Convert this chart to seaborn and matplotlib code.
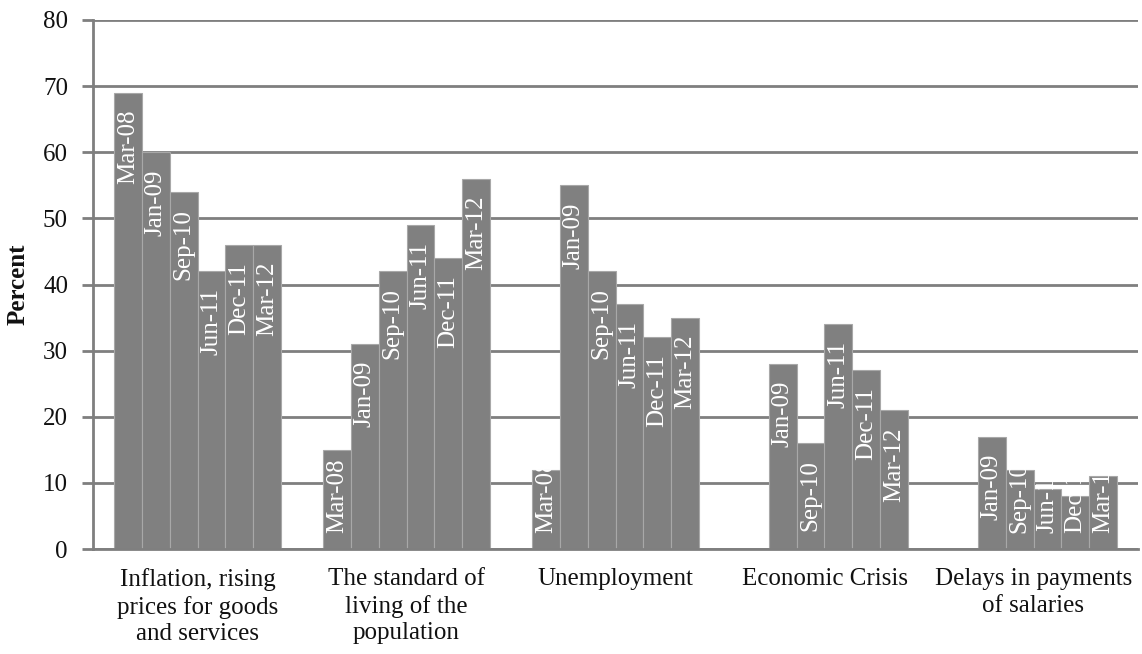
import numpy as np
import pandas as pd
import matplotlib
matplotlib.use("Agg")
import matplotlib.pyplot as plt
import seaborn as sns

categories = [
    "Inflation, rising\nprices for goods\nand services",
    "The standard of\nliving of the\npopulation",
    "Unemployment",
    "Economic Crisis",
    "Delays in payments\nof salaries",
]
periods = ["Mar-08", "Jan-09", "Sep-10", "Jun-11", "Dec-11", "Mar-12"]
inflation = [69, 60, 54, 42, 46, 46]
living_standard = [15, 31, 42, 49, 44, 56]
unemployment = [12, 55, 42, 37, 32, 35]
economic_crisis = [np.nan, 28, 16, 34, 27, 21]
salary_delays = [np.nan, 17, 12, 9, 8, 11]

series = [inflation, living_standard, unemployment, economic_crisis, salary_delays]
rows = []
for cat, vals in zip(categories, series):
    for p, v in zip(periods, vals):
        rows.append({"category": cat, "period": p, "value": v})
df = pd.DataFrame(rows).dropna()

sns.set_theme(style="white")
plt.rcParams["font.family"] = ["Liberation Serif", "DejaVu Serif"]
FS = 18
BAR = "#808080"
GRID = "#7f7f7f"

fig = plt.figure(figsize=(11.42, 6.54), dpi=100)
ax = fig.add_axes([93 / 1142, 1 - 549 / 654, (1138 - 93) / 1142, (549 - 20) / 654])

sns.barplot(data=df, x="category", y="value", hue="period", order=categories,
            hue_order=periods, palette=[BAR] * len(periods), saturation=1,
            errorbar=None, width=0.8, edgecolor="#a8a8a8", linewidth=0.8,
            legend=False, ax=ax, zorder=2)

ax.set_ylim(0, 80)
ax.set_yticks(range(0, 81, 10))
ax.set_xlim(-0.5, len(categories) - 0.5)
ax.yaxis.grid(True, color=GRID, linewidth=2, zorder=0)
ax.set_axisbelow(True)
for s in ["top", "right"]:
    ax.spines[s].set_visible(False)
ax.spines["left"].set_color(GRID)
ax.spines["left"].set_linewidth(2)
ax.spines["bottom"].set_color(GRID)
ax.spines["bottom"].set_linewidth(2)
ax.tick_params(axis="y", which="both", left=True, length=8, width=2, color=GRID,
               labelsize=FS, pad=10, labelcolor="#111111")
ax.tick_params(axis="x", length=0, labelsize=FS, pad=14, labelcolor="#111111")
for lbl in ax.get_xticklabels():
    lbl.set_linespacing(1.25)
ax.set_xlabel("")
ax.set_ylabel("Percent", fontsize=FS, fontweight="bold", labelpad=10, color="#111111")

# value labels inside bars
fig.canvas.draw()
renderer = fig.canvas.get_renderer()
px_per_unit = ax.bbox.height / 80.0
top_gap = 17 / px_per_unit
bottom_gap = 16 / px_per_unit
for cont, period in zip(ax.containers, periods):
    for bar in cont:
        h = bar.get_height()
        if not np.isfinite(h) or h <= 0:
            continue
        xc = bar.get_x() + bar.get_width() / 2
        t = ax.text(xc, h - top_gap, period, rotation=90, ha="center", va="top",
                    color="white", fontsize=FS, zorder=3)
        bb = t.get_window_extent(renderer)
        ymin = ax.transData.inverted().transform((0, bb.y0))[1]
        if ymin < bottom_gap:
            t.set_y(bottom_gap)
            t.set_va("bottom")
        t.set_clip_path(bar)

fig.savefig("out.png", dpi=100)
